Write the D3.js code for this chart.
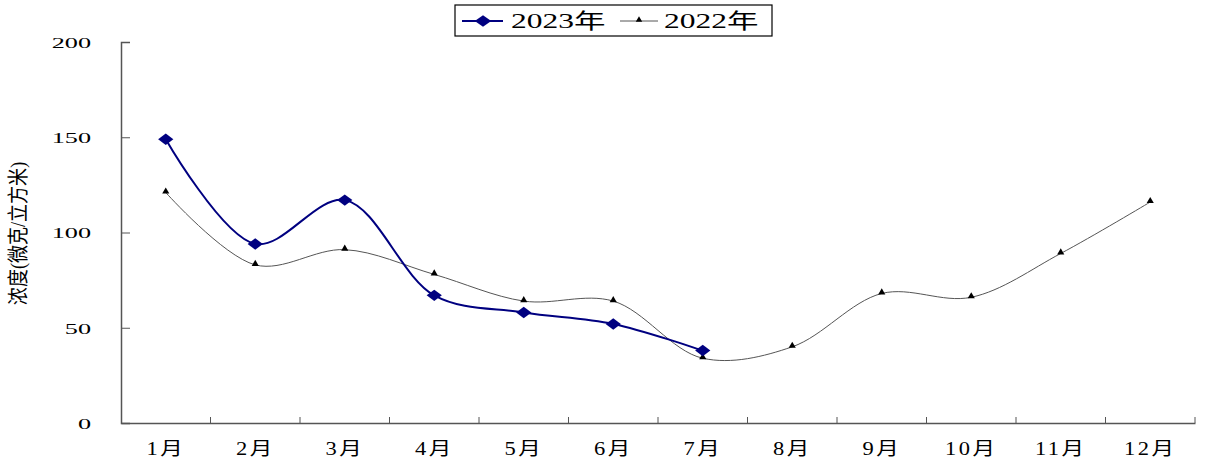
<!DOCTYPE html>
<head>
<meta charset="utf-8">
<script src="https://d3js.org/d3.v7.min.js"></script>
<style>
  body { margin: 0; background: #fff; }
  text { font-family: "Liberation Serif", "DejaVu Serif", "Noto Sans CJK SC", serif; fill: #000; }
</style>
</head>
<body>
<div id="chart"></div>
<script>
// data
var months = ["1月", "2月", "3月", "4月", "5月", "6月", "7月", "8月", "9月", "10月", "11月", "12月"];
var values2023 = [149, 94, 117, 67, 58, 52, 38];
var values2022 = [121, 83, 91, 78, 64, 64, 34, 40, 68, 66, 89, 116];
var yTicks = [0, 50, 100, 150, 200];

var width = 1205, height = 466;
var mLeft = 121, mRight = 1195, mTop = 42, mBottom = 423;

var svg = d3.select("#chart").append("svg")
  .attr("width", width)
  .attr("height", height);

var x = d3.scaleBand().domain(months).range([mLeft, mRight]);
var y = d3.scaleLinear().domain([0, 200]).range([mBottom, mTop]);

// y axis, ticks point inward; labels are stretched wide like the original
var yAxis = svg.append("g")
  .attr("transform", "translate(" + mLeft + ",0)")
  .call(d3.axisLeft(y).tickValues(yTicks).tickSize(-9).tickPadding(29));
yAxis.selectAll("text")
  .attr("x", 0)
  .attr("dy", "0.35em")
  .attr("transform", "translate(-30,0) scale(1.75,1)")
  .style("font-size", "15px");

// x axis, ticks on band edges pointing up
var xAxis = svg.append("g")
  .attr("transform", "translate(0," + mBottom + ")")
  .call(d3.axisBottom(x).tickSize(0).tickPadding(19));
xAxis.selectAll("text")
  .attr("transform", "scale(1.25,1)")
  .attr("letter-spacing", "2px")
  .style("font-size", "18px");
xAxis.selectAll(".tick").append("line")
  .attr("x1", x.bandwidth() / 2).attr("x2", x.bandwidth() / 2)
  .attr("y1", 0).attr("y2", -6);

svg.selectAll(".domain").attr("stroke", "#555").attr("stroke-width", 1.5);
svg.selectAll(".tick line").attr("stroke", "#555");

// y axis title
svg.append("text")
  .attr("transform", "translate(25," + ((mTop + mBottom) / 2 + 1) + ") rotate(-90) scale(0.95,1.1)")
  .attr("text-anchor", "middle")
  .style("font-size", "19px")
  .text("浓度(微克/立方米)");

function cx(i) { return x(months[i]) + x.bandwidth() / 2; }

var line = d3.line()
  .x(function(d, i) { return cx(i); })
  .y(function(d) { return y(d); })
  .curve(d3.curveCatmullRom.alpha(0.5));

// 2022 series
svg.append("path")
  .datum(values2022)
  .attr("d", line)
  .attr("fill", "none")
  .attr("stroke", "#555")
  .attr("stroke-width", 1);

svg.selectAll(".tri").data(values2022).enter().append("path")
  .attr("class", "tri")
  .attr("d", d3.symbol().type(d3.symbolTriangle).size(22))
  .attr("transform", function(d, i) { return "translate(" + cx(i) + "," + (y(d) - 1) + ")"; })
  .attr("fill", "#000");

// 2023 series
svg.append("path")
  .datum(values2023)
  .attr("d", line)
  .attr("fill", "none")
  .attr("stroke", "#000080")
  .attr("stroke-width", 2);

svg.selectAll(".dia").data(values2023).enter().append("path")
  .attr("class", "dia")
  .attr("d", d3.symbol().type(d3.symbolDiamond).size(38))
  .attr("transform", function(d, i) { return "translate(" + cx(i) + "," + y(d) + ") scale(2.3,1)"; })
  .attr("fill", "#000080");

// legend
var legend = svg.append("g").attr("transform", "translate(455,5)");
legend.append("rect")
  .attr("width", 317).attr("height", 31)
  .attr("fill", "#fff").attr("stroke", "#000").attr("stroke-width", 1.2);

legend.append("line").attr("x1", 7).attr("x2", 48).attr("y1", 16).attr("y2", 16)
  .attr("stroke", "#000080").attr("stroke-width", 2);
legend.append("path")
  .attr("d", d3.symbol().type(d3.symbolDiamond).size(38))
  .attr("transform", "translate(28,16) scale(2.5,1)")
  .attr("fill", "#000080");
legend.append("text")
  .attr("transform", "translate(56,23) scale(1.5,1)")
  .style("font-size", "21px").text("2023年");

legend.append("line").attr("x1", 165).attr("x2", 203).attr("y1", 16).attr("y2", 16)
  .attr("stroke", "#555").attr("stroke-width", 1);
legend.append("path")
  .attr("d", d3.symbol().type(d3.symbolTriangle).size(18))
  .attr("transform", "translate(184,15)")
  .attr("fill", "#000");
legend.append("text")
  .attr("transform", "translate(209,23) scale(1.5,1)")
  .style("font-size", "21px").text("2022年");
</script>
</body>
